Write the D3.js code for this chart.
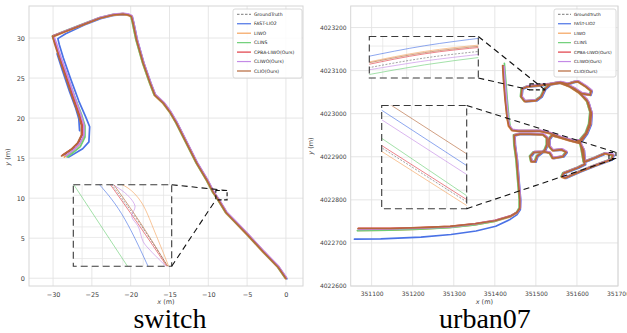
<!DOCTYPE html>
<html>
<head>
<meta charset="utf-8">
<script src="https://cdn.jsdelivr.net/npm/d3@7"></script>
<style>
  body { margin: 0; background: #fff; }
  svg { display: block; font-family: "DejaVu Sans", sans-serif; }
</style>
</head>
<body>
<svg id="chart" width="627" height="333"></svg>
<script>
// --- series names / colours (legend order = draw order) ---
const methods = ["GroundTruth", "FAST-LIO2", "LIWO", "CLINS", "CPBA-LIWO(Ours)", "CLIWO(Ours)", "CLIO(Ours)"];
const colors = ["#6b6b6b", "#4a72e6", "#f4a25c", "#6dcf76", "#e03b44", "#c48ae6", "#b5673a"];
// tiny pixel nudge so overlapping tracks stay visible
const nudge = [[0, 0], [0.9, 0.6], [-0.4, 0.5], [-0.7, -0.3], [0.3, -0.3], [0.6, -0.6], [0, 0.2]];

// --- switch ---
const switchXTicks = [-30, -25, -20, -15, -10, -5, 0];
const switchYTicks = [0, 5, 10, 15, 20, 25, 30];
const switchRoute = [[0, 0], [-1, 1.4], [-2.9, 3.3], [-5, 5.5], [-6.8, 7.3], [-7.7, 8.2], [-8.7, 9.8], [-9.4, 10.8],
  [-10.2, 12.3], [-11.5, 14.4], [-12.8, 16.9], [-14.1, 19.4], [-14.95, 20.8], [-15.8, 21.9], [-16.9, 22.9],
  [-17.5, 24.4], [-18.4, 26.9], [-19.25, 29.8], [-19.7, 31.9], [-19.9, 32.7], [-20.3, 32.9], [-21, 33.0],
  [-22.3, 32.9], [-24, 32.5], [-26.1, 31.7]];
const switchLegs = [
  [[-28.5, 30.8], [-30, 30.2], [-29.7, 29.3], [-29.1, 27.5], [-28.3, 25.2], [-27.4, 22.6], [-26.6, 20.4], [-26.2, 19.1], [-26.2, 17.9], [-26.7, 16.9], [-27.5, 16.1], [-28.7, 15.3]],
  [[-28.5, 30.6], [-29.5, 30.0], [-29.3, 29.2], [-28.8, 27.6], [-27.9, 25.1], [-26.8, 22.2], [-25.9, 20.2], [-25.4, 19.0], [-25.5, 17.1], [-26.3, 16.25], [-28.1, 15.2]],
  [[-28.5, 30.8], [-30, 30.2], [-29.6, 29.2], [-29.0, 27.4], [-28.1, 25.0], [-27.2, 22.5], [-26.4, 20.4], [-26.0, 19.0], [-26.0, 17.7], [-26.6, 16.7], [-27.6, 15.8], [-28.5, 15.2]],
  [[-28.5, 30.8], [-30, 30.2], [-29.6, 29.3], [-28.9, 27.4], [-28.0, 24.9], [-27.0, 22.3], [-26.2, 20.3], [-25.8, 19.0], [-25.8, 17.6], [-26.4, 16.4], [-27.4, 15.6], [-28.1, 15.1]],
  [[-28.5, 30.8], [-30.05, 30.25], [-29.75, 29.3], [-29.15, 27.5], [-28.35, 25.2], [-27.45, 22.6], [-26.65, 20.4], [-26.3, 19.1], [-26.3, 17.9], [-26.8, 16.9], [-27.6, 16.1], [-28.8, 15.35]],
  [[-28.5, 30.8], [-30, 30.2], [-29.65, 29.3], [-29.05, 27.5], [-28.2, 25.2], [-27.3, 22.6], [-26.5, 20.4], [-26.1, 19.1], [-26.1, 17.8], [-26.6, 16.8], [-27.5, 15.9], [-28.4, 15.25]],
  [[-28.5, 30.8], [-30.05, 30.2], [-29.8, 29.3], [-29.2, 27.5], [-28.4, 25.2], [-27.5, 22.6], [-26.7, 20.4], [-26.35, 19.1], [-26.35, 17.9], [-26.85, 16.9], [-27.7, 16.1], [-28.9, 15.3]]
];
const switchFastLioStart = [[-29.6, 28.1], [-28.9, 26.0], [-28.0, 23.4], [-27.2, 21.3], [-26.8, 20.0], [-26.7, 18.5]];
const switchZoomWin = [[-9.03, -7.58], [9.79, 10.95]];
const switchZoom = [
  [[-8.50, 11.0], [-8.06, 10.41], [-7.61, 9.75]],
  [[-8.69, 11.0], [-8.32, 10.54], [-7.9, 9.73]],
  [[-8.43, 11.0], [-8.02, 10.69], [-7.80, 10.21], [-7.6, 9.73]],
  [[-9.05, 10.99], [-8.19, 9.73]],
  [[-8.52, 11.0], [-8.08, 10.40], [-7.63, 9.76]],
  [[-8.53, 11.0], [-8.24, 10.81], [-8.12, 10.64], [-8.17, 10.50], [-8.07, 10.35], [-8.0, 10.14], [-7.90, 10.02], [-7.63, 9.76]],
  [[-8.47, 11.0], [-8.05, 10.42], [-7.62, 9.76]]
];
const switchZoomXTicks = [-8.9, -8.6, -8.3, -8.0, -7.7];
const switchZoomYTicks = [9.9, 10.05, 10.2, 10.35, 10.5, 10.65, 10.8];

// --- urban07 ---
const urbanXTicks = [351100, 351200, 351300, 351400, 351500, 351600, 351700];
const urbanYTicks = [4022600, 4022700, 4022800, 4022900, 4023000, 4023100, 4023200];
const urbanStarts = [
  [[351421, 4023111], [351423, 4023079], [351427, 4023032], [351431, 4022990], [351434, 4022972]],
  [[351420, 4023106], [351422, 4023078], [351426, 4023031], [351430, 4022990], [351434, 4022972]],
  [[351421, 4023108], [351423, 4023079], [351427, 4023032], [351431, 4022990], [351434, 4022972]],
  [[351425, 4023116], [351428, 4023080], [351432, 4023032], [351436, 4022990], [351439, 4022970]],
  [[351420, 4023110], [351422, 4023079], [351426, 4023032], [351430, 4022990], [351434, 4022972]],
  [[351421, 4023108], [351423, 4023079], [351427, 4023032], [351431, 4022990], [351434, 4022972]],
  [[351419, 4023112], [351421, 4023079], [351425, 4023032], [351430, 4022990], [351434, 4022972]]
];
const urbanRoute = [[351442, 4022962], [351456, 4022960], [351486, 4022960], [351510, 4022960], [351534, 4022955],
  [351561, 4022945], [351595, 4022936], [351612, 4022939],
  [351624, 4022955], [351633, 4022976], [351635, 4023002], [351627, 4023027], [351607, 4023048], [351583, 4023063],
  [351559, 4023072], [351534, 4023068],
  [351522, 4023058], [351513, 4023040], [351500, 4023031], [351473, 4023029], [351464, 4023040], [351466, 4023058],
  [351478, 4023063], [351510, 4023066], [351534, 4023069], [351559, 4023073],
  [351578, 4023069], [351593, 4023074], [351602, 4023075], [351622, 4023063], [351635, 4023053], [351632, 4023044],
  [351612, 4023047], [351593, 4023059], [351580, 4023065],
  [351602, 4023052], [351624, 4023032], [351633, 4023004], [351630, 4022976], [351622, 4022955], [351607, 4022938],
  [351612, 4022916], [351617, 4022888], [351644, 4022898], [351668, 4022908], [351688, 4022904], [351684, 4022894],
  [351644, 4022880], [351607, 4022866], [351571, 4022851], [351563, 4022854], [351567, 4022862], [351602, 4022875],
  [351619, 4022883], [351616, 4022916], [351607, 4022932],
  [351583, 4022938], [351559, 4022945], [351539, 4022950], [351532, 4022941], [351532, 4022925],
  [351541, 4022915], [351563, 4022917], [351574, 4022911], [351566, 4022901], [351541, 4022897], [351534, 4022909],
  [351522, 4022912], [351495, 4022911], [351486, 4022901], [351489, 4022889], [351498, 4022889], [351503, 4022902],
  [351522, 4022916], [351527, 4022928], [351527, 4022944], [351517, 4022952],
  [351486, 4022953], [351461, 4022953], [351447, 4022950],
  [351448, 4022928], [351453, 4022893], [351457, 4022846], [351461, 4022800]];
const urbanEnds = [
  [[351461, 4022781], [351454, 4022770], [351437, 4022761], [351400, 4022751], [351352, 4022743], [351291, 4022737], [351218, 4022734], [351145, 4022732], [351067, 4022731]],
  [[351460, 4022779], [351452, 4022767], [351435, 4022756], [351400, 4022740], [351352, 4022729], [351291, 4022721], [351218, 4022715], [351120, 4022711], [351056, 4022710]],
  [[351461, 4022781], [351454, 4022770], [351437, 4022761], [351400, 4022751], [351352, 4022743], [351291, 4022737], [351218, 4022733], [351145, 4022731], [351067, 4022730]],
  [[351461, 4022781], [351454, 4022770], [351437, 4022760], [351400, 4022749], [351352, 4022741], [351291, 4022735], [351218, 4022731], [351145, 4022729], [351067, 4022728]],
  [[351461, 4022781], [351454, 4022771], [351437, 4022762], [351400, 4022752], [351352, 4022744], [351291, 4022738], [351218, 4022735], [351145, 4022733], [351067, 4022733]],
  [[351461, 4022781], [351454, 4022770], [351437, 4022761], [351400, 4022751], [351352, 4022743], [351291, 4022736], [351218, 4022733], [351145, 4022731], [351067, 4022730]],
  [[351461, 4022781], [351454, 4022771], [351437, 4022762], [351400, 4022752], [351352, 4022745], [351291, 4022739], [351218, 4022736], [351145, 4022734], [351067, 4022734]]
];
const urbanZoomAWin = [[351485.5, 351522], [4023055.3, 4023069.2]];
const urbanZoomA = [
  [[351484, 4023058.5], [351504, 4023062.0], [351524, 4023064.4]],
  [[351484, 4023062.3], [351504, 4023066.1], [351524, 4023068.8]],
  [[351484, 4023060.4], [351504, 4023064.2], [351524, 4023066.5]],
  [[351484, 4023056.2], [351504, 4023059.7], [351524, 4023062.4]],
  [[351484, 4023059.6], [351504, 4023063.4], [351524, 4023065.7]],
  [[351484, 4023057.8], [351504, 4023061.0], [351524, 4023063.4]],
  [[351484, 4023060.1], [351504, 4023063.8], [351524, 4023066.1]]
];
const urbanZoomAXTicks = [351490, 351498, 351506, 351514];
const urbanZoomAYTicks = [4023058, 4023066];
const urbanZoomBWin = [[351678, 351695], [4022896, 4022910]];
const urbanZoomB = [
  [[351677, 4022904.7], [351696, 4022896.5]],
  [[351677, 4022909.8], [351696, 4022901.4]],
  [[351677, 4022904.2], [351696, 4022896.0]],
  [[351677, 4022906.0], [351696, 4022897.3]],
  [[351677, 4022905.0], [351696, 4022896.8]],
  [[351677, 4022908.5], [351696, 4022900.2]],
  [[351677, 4022911.3], [351696, 4022903.0]]
];
const urbanZoomBXTicks = [351684, 351687.5, 351691];
const urbanZoomBYTicks = [4022898.5, 4022903, 4022908.5];

const svg = d3.select("#chart");
let clipId = 0;

function addClip(x0, y0, x1, y1) {
  const id = "clip" + (clipId++);
  svg.append("clipPath").attr("id", id).append("rect")
    .attr("x", x0).attr("y", y0).attr("width", x1 - x0).attr("height", y1 - y0);
  return "url(#" + id + ")";
}

function drawPanel(o) {
  const [x0, y0, x1, y1] = o.box;
  const g = svg.append("g");
  const x = d3.scaleLinear().domain(o.xDomain).range([x0, x1]);
  const y = d3.scaleLinear().domain(o.yDomain).range([y1, y0]);

  // grid
  g.append("g").selectAll("line").data(o.xTicks).join("line")
    .attr("x1", d => x(d)).attr("x2", d => x(d)).attr("y1", y0).attr("y2", y1)
    .attr("stroke", "#e3e3e3").attr("stroke-width", 0.9);
  g.append("g").selectAll("line").data(o.yTicks).join("line")
    .attr("y1", d => y(d)).attr("y2", d => y(d)).attr("x1", x0).attr("x2", x1)
    .attr("stroke", "#e3e3e3").attr("stroke-width", 0.9);
  g.append("rect").attr("x", x0).attr("y", y0).attr("width", x1 - x0).attr("height", y1 - y0)
    .attr("fill", "none").attr("stroke", "#d6d6d6").attr("stroke-width", 1);

  // axes
  const ax = g.append("g").attr("transform", `translate(0,${y1})`)
    .call(d3.axisBottom(x).tickValues(o.xTicks).tickSize(0).tickPadding(6).tickFormat(d3.format("d")));
  const ay = g.append("g").attr("transform", `translate(${x0},0)`)
    .call(d3.axisLeft(y).tickValues(o.yTicks).tickSize(0).tickPadding(4).tickFormat(d3.format("d")));
  [ax, ay].forEach(a => {
    a.select(".domain").remove();
    a.selectAll("text").attr("fill", "#444").style("font-size", o.tickSize + "px")
      .style("font-family", "DejaVu Sans");
  });

  g.append("text").attr("x", (x0 + x1) / 2).attr("y", 303.5).attr("text-anchor", "middle")
    .attr("fill", "#444").style("font-size", "6.5px")
    .html('<tspan font-style="italic">x</tspan> (m)');
  g.append("text").attr("transform", `translate(${o.yLabelX},${o.yLabelY}) rotate(-90)`)
    .attr("text-anchor", "middle").attr("fill", "#444").style("font-size", "6.5px")
    .html('<tspan font-style="italic">y</tspan> (m)');

  // caption
  g.append("text").attr("x", o.captionX).attr("y", 328).attr("text-anchor", "middle")
    .style("font-family", "'Liberation Serif', 'Times New Roman', serif").style("font-size", "28px")
    .attr("fill", "#000").text(o.caption);

  const lines = g.append("g").attr("clip-path", addClip(x0, y0, x1, y1));
  o.series.forEach((segs, i) => {
    const line = d3.line().x(d => x(d[0]) + nudge[i][0]).y(d => y(d[1]) + nudge[i][1]);
    segs.forEach(s => {
      lines.append("path").attr("d", line(s)).attr("fill", "none")
        .attr("stroke", colors[i]).attr("stroke-width", i === 0 ? 1.2 : 1.7)
        .attr("stroke-dasharray", i === 0 ? "3,2" : null)
        .attr("stroke-linejoin", "round").attr("stroke-linecap", "round");
    });
  });

  return { g, x, y, box: o.box };
}

function drawInset(p, o) {
  const [bx0, by0, bx1, by1] = o.box;
  const ix = d3.scaleLinear().domain(o.win[0]).range([bx0, bx1]);
  const iy = d3.scaleLinear().domain(o.win[1]).range([by1, by0]);
  const g = p.g.append("g");
  g.append("rect").attr("x", bx0).attr("y", by0).attr("width", bx1 - bx0).attr("height", by1 - by0)
    .attr("fill", "#fff");
  g.append("g").selectAll("line").data(o.xTicks).join("line")
    .attr("x1", d => ix(d)).attr("x2", d => ix(d)).attr("y1", by0).attr("y2", by1)
    .attr("stroke", "#e6e6e6").attr("stroke-width", 0.8);
  g.append("g").selectAll("line").data(o.yTicks).join("line")
    .attr("y1", d => iy(d)).attr("y2", d => iy(d)).attr("x1", bx0).attr("x2", bx1)
    .attr("stroke", "#e6e6e6").attr("stroke-width", 0.8);

  const lines = g.append("g").attr("clip-path", addClip(bx0, by0, bx1, by1));
  const line = d3.line().x(d => ix(d[0])).y(d => iy(d[1])).curve(d3.curveMonotoneX);
  const wiggle = d3.line().x(d => ix(d[0])).y(d => iy(d[1])).curve(d3.curveCatmullRom);
  o.series.forEach((s, i) => {
    lines.append("path").attr("d", i === 5 ? wiggle(s) : line(s))
      .attr("fill", "none").attr("stroke", colors[i]).attr("stroke-width", 0.9)
      .attr("stroke-opacity", 0.7).attr("stroke-dasharray", i === 0 ? "2,1.5" : null);
  });

  g.append("rect").attr("x", bx0).attr("y", by0).attr("width", bx1 - bx0).attr("height", by1 - by0)
    .attr("fill", "none").attr("stroke", "#3a3a3a").attr("stroke-width", 1.1).attr("stroke-dasharray", "7,4");

  // zoomed window in the main axes
  const rx0 = p.x(o.win[0][0]), rx1 = p.x(o.win[0][1]);
  const ry0 = p.y(o.win[1][1]), ry1 = p.y(o.win[1][0]);
  g.append("rect").attr("x", rx0).attr("y", ry0).attr("width", rx1 - rx0).attr("height", ry1 - ry0)
    .attr("fill", "none").attr("stroke", "#111").attr("stroke-width", 1.1).attr("stroke-dasharray", "4,2.5");

  const ic = { ur: [bx1, by0], lr: [bx1, by1] };
  const rc = { ur: [rx1, ry0], lr: [rx1, ry1], ll: [rx0, ry1], ul: [rx0, ry0] };
  o.links.forEach(([a, b]) => {
    g.append("line").attr("x1", ic[a][0]).attr("y1", ic[a][1]).attr("x2", rc[b][0]).attr("y2", rc[b][1])
      .attr("stroke", "#111").attr("stroke-width", 1.1).attr("stroke-dasharray", "6,4");
  });
}

function drawLegend(p, o) {
  const g = p.g.append("g");
  g.append("rect").attr("x", o.x).attr("y", o.y).attr("width", o.w).attr("height", o.h)
    .attr("rx", 2).attr("fill", "#fff").attr("fill-opacity", 0.85).attr("stroke", "#d0d0d0").attr("stroke-width", 0.8);
  methods.forEach((m, i) => {
    const yy = o.y + 5.3 + i * 9.45;
    g.append("line").attr("x1", o.x + 4).attr("x2", o.x + 4 + o.hl).attr("y1", yy).attr("y2", yy)
      .attr("stroke", colors[i]).attr("stroke-width", i === 0 ? 0.9 : 1.2)
      .attr("stroke-dasharray", i === 0 ? "2.5,1.5" : null);
    g.append("text").attr("x", o.x + 7 + o.hl).attr("y", yy).attr("dy", "0.35em")
      .attr("fill", "#222").style("font-size", o.fs + "px").text(m);
  });
}

// --- left: switch ---
const left = drawPanel({
  box: [29, 6, 303, 286], xDomain: [-33.1, 2.2], yDomain: [-0.97, 34.0],
  xTicks: switchXTicks, yTicks: switchYTicks, tickSize: 6.5,
  yLabelX: 10, yLabelY: 157, captionX: 170, caption: "switch",
  series: methods.map((m, i) => i === 1
    ? [switchRoute.concat(switchLegs[i]), switchFastLioStart]
    : [switchRoute.concat(switchLegs[i])])
});
drawInset(left, {
  box: [73.3, 184.7, 171.7, 266.3], win: switchZoomWin, series: switchZoom,
  xTicks: switchZoomXTicks, yTicks: switchZoomYTicks, links: [["ur", "ur"], ["lr", "ll"]]
});
drawLegend(left, { x: 233, y: 9, w: 69, h: 69, hl: 14, fs: 4.6 });

// --- right: urban07 ---
const right = drawPanel({
  box: [350.7, 6, 618, 286], xDomain: [351049, 351700], yDomain: [4022600, 4023250],
  xTicks: urbanXTicks, yTicks: urbanYTicks, tickSize: 6,
  yLabelX: 313, yLabelY: 146, captionX: 485, caption: "urban07",
  series: methods.map((m, i) => [urbanStarts[i].concat(urbanRoute, urbanEnds[i])])
});
drawInset(right, {
  box: [369.3, 36.5, 478.3, 78], win: urbanZoomAWin, series: urbanZoomA,
  xTicks: urbanZoomAXTicks, yTicks: urbanZoomAYTicks, links: [["ur", "lr"], ["lr", "ll"]]
});
drawInset(right, {
  box: [381.7, 105.5, 466.7, 208.7], win: urbanZoomBWin, series: urbanZoomB,
  xTicks: urbanZoomBXTicks, yTicks: urbanZoomBYTicks, links: [["ur", "ur"], ["lr", "lr"]]
});
drawLegend(right, { x: 554, y: 9, w: 62, h: 68, hl: 13, fs: 4.3 });
</script>
</body>
</html>
